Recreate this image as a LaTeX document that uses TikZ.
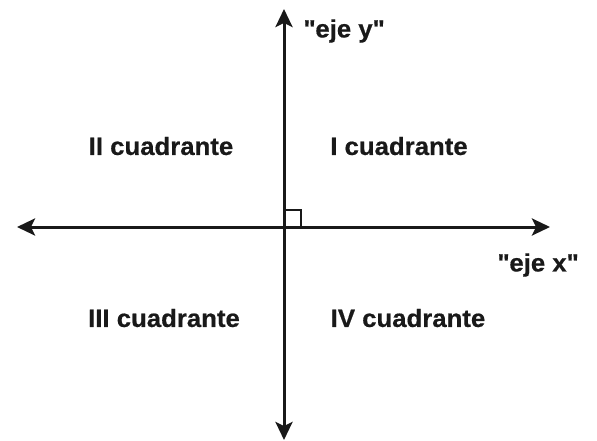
\documentclass[tikz,border=0pt]{standalone}
\usepackage{fontspec}
\setmainfont{Liberation Sans}[BoldFeatures={FakeBold=0.6,FakeStretch=1.03}]
\usetikzlibrary{arrows.meta}
\begin{document}
\begin{tikzpicture}[x=1pt,y=-1pt,
  axis/.style={line width=3pt,color=black!90,-{Stealth[length=18pt,width=17pt,inset=4pt]}},
  lbl/.style={font=\fontsize{25}{28}\selectfont\bfseries,text=black!90,inner sep=0pt}]
\useasboundingbox (0,0) rectangle (597,441);
\coordinate (o) at (284,227);
\coordinate (top) at (284,9);
\coordinate (bot) at (284,440);
\coordinate (lft) at (17,227);
\coordinate (rgt) at (550,227);
\draw[axis] (o) -- (top);
\draw[axis] (o) -- (bot);
\draw[axis] (o) -- (lft);
\draw[axis] (o) -- (rgt);
\draw[line width=2pt,color=black!90] (284,210) -- (301,210) -- (301,227);
\node[lbl] (ey) at (344,31) {\textquotedbl eje y\textquotedbl};
\node[lbl] (ex) at (538,265) {\textquotedbl eje x\textquotedbl};
\node[lbl] (q2) at (161,146) {II cuadrante};
\node[lbl] (q1) at (399,146) {I cuadrante};
\node[lbl] (q3) at (164,318) {III cuadrante};
\node[lbl] (q4) at (408,318) {IV cuadrante};
\end{tikzpicture}
\end{document}
